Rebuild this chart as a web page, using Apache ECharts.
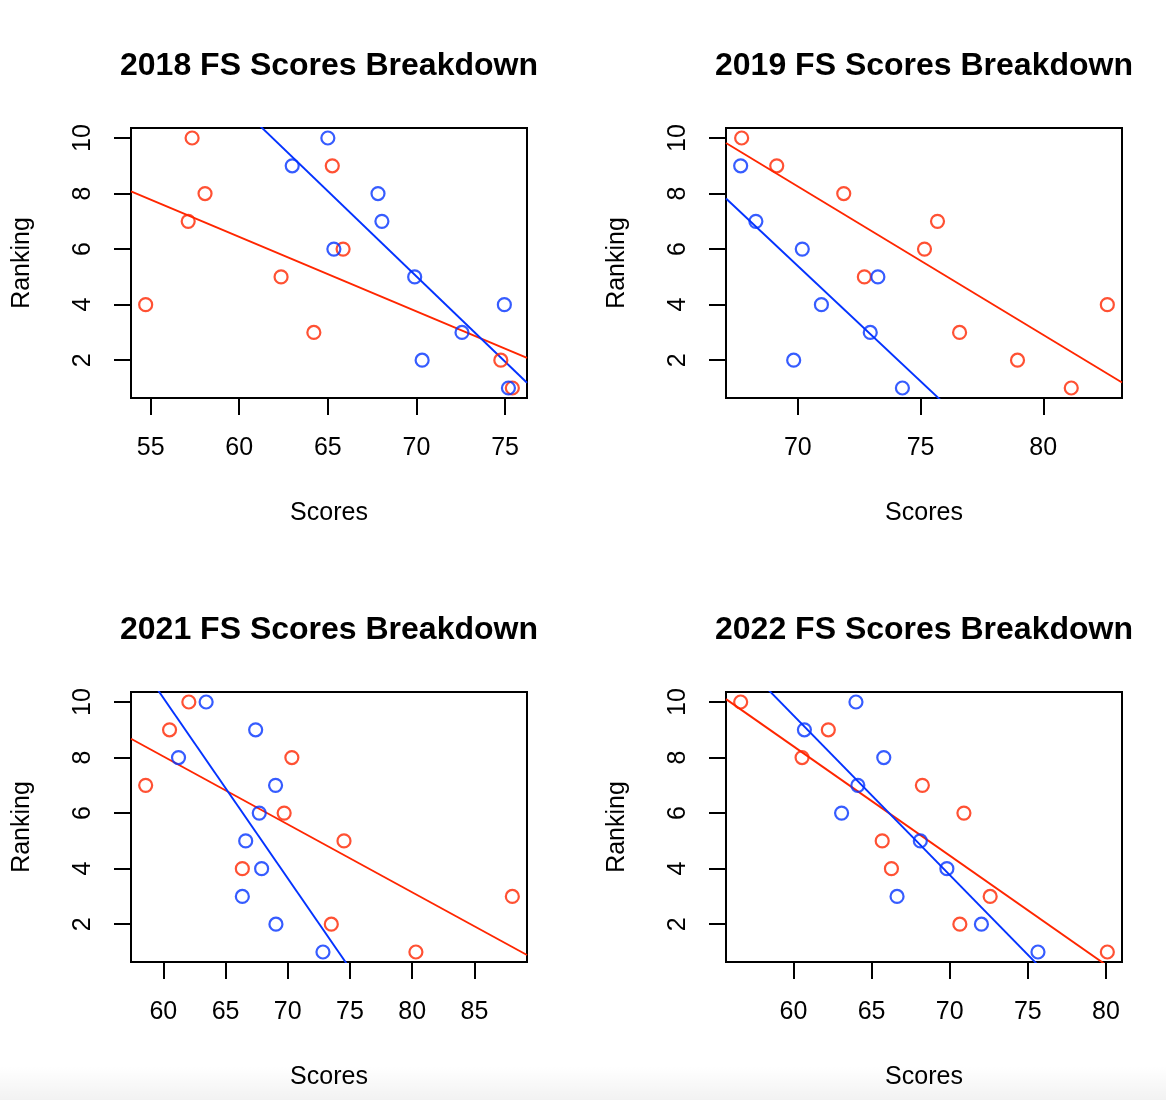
<!DOCTYPE html>
<html>
<head>
<meta charset="utf-8">
<script src="https://cdn.jsdelivr.net/npm/echarts@6/dist/echarts.min.js"></script>
<style>
html,body{margin:0;padding:0;background:#fff;}
#chart{width:1166px;height:1100px;}
</style>
</head>
<body>
<div id="chart"></div>
<script>
// ---- data ----
const titles = ['2018 FS Scores Breakdown', '2019 FS Scores Breakdown', '2021 FS Scores Breakdown', '2022 FS Scores Breakdown'];

const ranksFull = [10, 9, 8, 7, 6, 5, 4, 3, 2, 1];
const ranks2019Blue = [9, 7, 6, 5, 4, 3, 2, 1];

const red2018 = [57.34, 65.25, 58.07, 57.12, 65.86, 62.36, 54.72, 64.21, 74.76, 75.41];
const blue2018 = [65.0, 62.99, 67.83, 68.05, 65.34, 69.9, 74.96, 72.57, 70.32, 75.19];

const red2019 = [67.71, 69.14, 71.87, 75.69, 75.16, 72.71, 82.61, 76.59, 78.95, 81.14];
const blue2019 = [67.67, 68.29, 70.18, 73.26, 70.96, 72.95, 69.83, 74.26];

const red2021 = [62.05, 60.5, 70.33, 58.58, 69.71, 74.52, 66.35, 88.05, 73.5, 80.3];
const blue2021 = [63.44, 67.42, 61.22, 69.02, 67.71, 66.62, 67.9, 66.35, 69.05, 72.83];

const red2022 = [56.62, 62.23, 60.55, 68.25, 70.91, 65.68, 66.27, 72.59, 70.65, 80.09];
const blue2022 = [64.0, 60.7, 65.78, 64.12, 63.08, 68.12, 69.82, 66.63, 72.03, 75.65];

const xTicks2018 = [55, 60, 65, 70, 75];
const xTicks2019 = [70, 75, 80];
const xTicks2021 = [60, 65, 70, 75, 80, 85];
const xTicks2022 = [60, 65, 70, 75, 80];
const yTicks = [2, 4, 6, 8, 10];

// ---- build ----
const RED = '#ff2600';
const BLUE = '#0433ff';
const FONT = '"Liberation Sans", Arial, Helvetica, sans-serif';

const panels = [
  {red: red2018, redR: ranksFull, blue: blue2018, blueR: ranksFull, xt: xTicks2018},
  {red: red2019, redR: ranksFull, blue: blue2019, blueR: ranks2019Blue, xt: xTicks2019},
  {red: red2021, redR: ranksFull, blue: blue2021, blueR: ranksFull, xt: xTicks2021},
  {red: red2022, redR: ranksFull, blue: blue2022, blueR: ranksFull, xt: xTicks2022}
];
const gridPos = [
  {left: 131, top: 128},
  {left: 726, top: 128},
  {left: 131, top: 692},
  {left: 726, top: 692}
];
const GW = 396, GH = 270;

function ext(vals) {
  const mn = Math.min.apply(null, vals), mx = Math.max.apply(null, vals);
  const d = (mx - mn) * 0.04;
  return [mn - d, mx + d];
}
function lm(xs, ys) {
  const n = xs.length;
  const mx = xs.reduce((a, b) => a + b, 0) / n;
  const my = ys.reduce((a, b) => a + b, 0) / n;
  let sxy = 0, sxx = 0;
  for (let i = 0; i < n; i++) { sxy += (xs[i] - mx) * (ys[i] - my); sxx += (xs[i] - mx) * (xs[i] - mx); }
  const b = sxy / sxx;
  return {a: my - b * mx, b: b};
}

const grids = [], xAxes = [], yAxes = [], series = [], titleOpts = [];
panels.forEach((p, i) => {
  const g = gridPos[i];
  grids.push({left: g.left, top: g.top, width: GW, height: GH, show: true,
    borderColor: '#000', borderWidth: 2, backgroundColor: 'transparent', containLabel: false});
  const xr = ext(p.red.concat(p.blue));
  const yr = ext(p.redR.concat(p.blueR));
  xAxes.push({
    type: 'value', gridIndex: i, min: xr[0], max: xr[1],
    axisLine: {show: false}, splitLine: {show: false},
    axisTick: {show: true, inside: false, length: 17, customValues: p.xt, lineStyle: {color: '#000', width: 2}},
    axisLabel: {show: true, customValues: p.xt, margin: 38, color: '#000', fontSize: 25, fontFamily: FONT},
    name: 'Scores', nameLocation: 'middle', nameGap: 103,
    nameTextStyle: {color: '#000', fontSize: 25, fontFamily: FONT}
  });
  yAxes.push({
    type: 'value', gridIndex: i, min: yr[0], max: yr[1],
    axisLine: {show: false}, splitLine: {show: false},
    axisTick: {show: true, inside: false, length: 17, customValues: yTicks, lineStyle: {color: '#000', width: 2}},
    axisLabel: {show: true, customValues: yTicks, rotate: 90, margin: 35, color: '#000', fontSize: 25, fontFamily: FONT},
    name: 'Ranking', nameLocation: 'middle', nameGap: 96,
    nameTextStyle: {color: '#000', fontSize: 25, fontFamily: FONT}
  });
  const mk = (xs, ys) => xs.map((x, k) => [x, ys[k]]);
  [[p.red, p.redR, RED], [p.blue, p.blueR, BLUE]].forEach(([xs, ys, c]) => {
    series.push({
      type: 'scatter', xAxisIndex: i, yAxisIndex: i, data: mk(xs, ys),
      symbol: 'circle', symbolSize: 13,
      itemStyle: {color: 'transparent', borderColor: c, borderWidth: 2.2},
      silent: true, z: 3
    });
    const f = lm(xs, ys);
    series.push({
      type: 'line', xAxisIndex: i, yAxisIndex: i, clip: true,
      data: [[xr[0], f.a + f.b * xr[0]], [xr[1], f.a + f.b * xr[1]]],
      symbol: 'none', lineStyle: {color: c, width: 1.9}, silent: true, z: 2, animation: false
    });
  });
  titleOpts.push({
    text: titles[i], left: g.left + GW / 2, top: g.top - 78, textAlign: 'center', padding: 0,
    textStyle: {color: '#000', fontSize: 32, fontWeight: 'bold', fontFamily: FONT}
  });
});

const chart = echarts.init(document.getElementById('chart'), null, {renderer: 'canvas'});
chart.setOption({
  backgroundColor: '#fff',
  animation: false,
  title: titleOpts,
  grid: grids,
  xAxis: xAxes,
  yAxis: yAxes,
  series: series,
  graphic: [{
    type: 'rect', z: -10, silent: true,
    shape: {x: 0, y: 1066, width: 1166, height: 34},
    style: {fill: new echarts.graphic.LinearGradient(0, 0, 0, 1, [
      {offset: 0, color: 'rgba(0,0,0,0)'}, {offset: 1, color: 'rgba(0,0,0,0.05)'}])}
  }]
});
</script>
</body>
</html>
